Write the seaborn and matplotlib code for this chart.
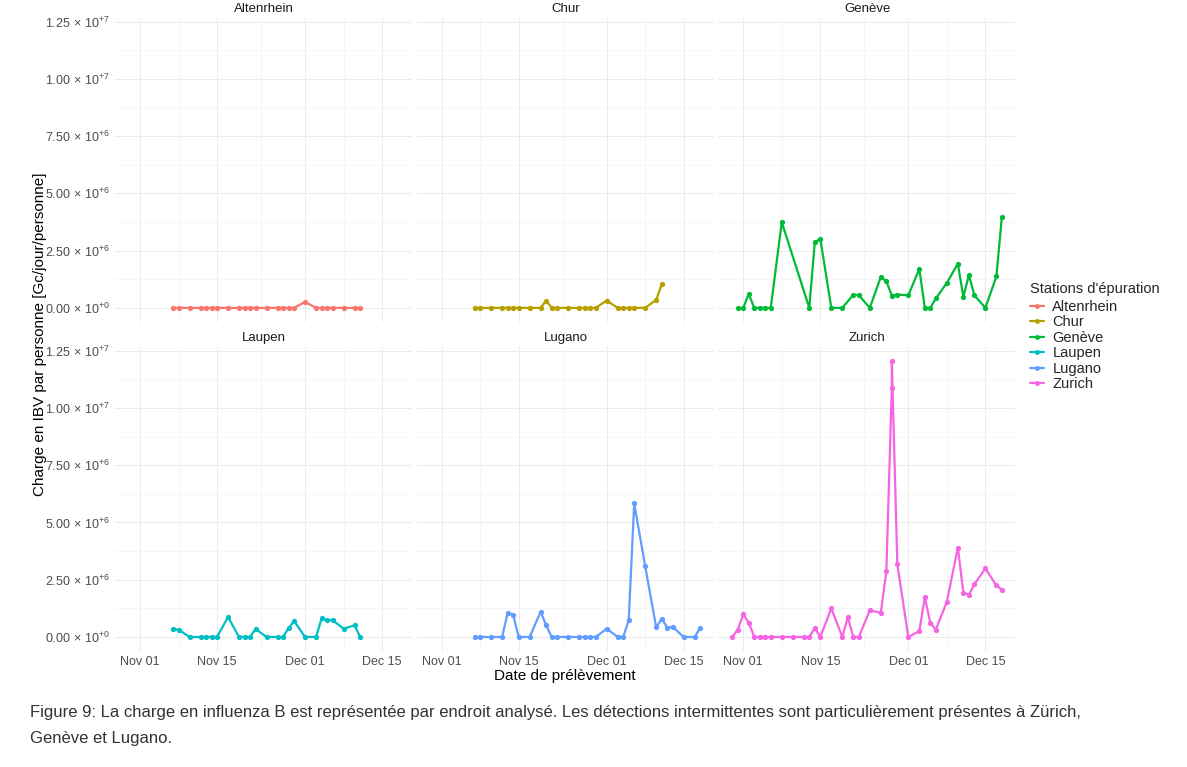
import pandas as pd
import matplotlib
matplotlib.use("Agg")
import matplotlib.pyplot as plt
import matplotlib.dates as mdates
from matplotlib.lines import Line2D
from matplotlib.ticker import FixedLocator
import seaborn as sns

# Stations and ggplot-like hue colours
stations = ["Altenrhein", "Chur", "Genève", "Laupen", "Lugano", "Zurich"]
colors = ["#F8766D", "#B79F00", "#00BA38", "#00BFC4", "#619CFF", "#F564E3"]

# sampling dates
dates_common = ["2023-11-07", "2023-11-08", "2023-11-10", "2023-11-12", "2023-11-13",
                "2023-11-14", "2023-11-15", "2023-11-17", "2023-11-19", "2023-11-20",
                "2023-11-21", "2023-11-22", "2023-11-24", "2023-11-26", "2023-11-27",
                "2023-11-28", "2023-11-29", "2023-12-01", "2023-12-03", "2023-12-04",
                "2023-12-05", "2023-12-06", "2023-12-08", "2023-12-10", "2023-12-11"]
dates_lugano = dates_common + ["2023-12-12", "2023-12-13", "2023-12-15", "2023-12-17", "2023-12-18"]
dates_geneve = ["2023-10-31", "2023-11-01", "2023-11-02", "2023-11-03", "2023-11-04",
                "2023-11-05", "2023-11-06", "2023-11-08", "2023-11-13", "2023-11-14",
                "2023-11-15", "2023-11-17", "2023-11-19", "2023-11-21", "2023-11-22",
                "2023-11-24", "2023-11-26", "2023-11-27", "2023-11-28", "2023-11-29",
                "2023-12-01", "2023-12-03", "2023-12-04", "2023-12-05", "2023-12-06",
                "2023-12-08", "2023-12-10", "2023-12-11", "2023-12-12", "2023-12-13",
                "2023-12-15", "2023-12-17", "2023-12-18"]
dates_zurich = ["2023-10-30", "2023-10-31", "2023-11-01", "2023-11-02", "2023-11-03",
                "2023-11-04", "2023-11-05", "2023-11-06", "2023-11-08", "2023-11-10",
                "2023-11-12", "2023-11-13", "2023-11-14", "2023-11-15", "2023-11-17",
                "2023-11-19", "2023-11-20", "2023-11-21", "2023-11-22", "2023-11-24",
                "2023-11-26", "2023-11-27", "2023-11-28", "2023-11-28", "2023-11-29",
                "2023-12-01", "2023-12-03", "2023-12-04", "2023-12-05", "2023-12-06",
                "2023-12-08", "2023-12-10", "2023-12-11", "2023-12-12", "2023-12-13",
                "2023-12-15", "2023-12-17", "2023-12-18"]

# loads in Gc/jour/personne
altenrhein = [0] * 17 + [2.6e5] + [0] * 7
chur = [0] * 9 + [3.2e5] + [0] * 7 + [3.2e5] + [0] * 5 + [3.5e5, 1.03e6]
geneve = [0, 0, 6.1e5, 0, 0, 0, 0, 3.74e6, 0, 2.86e6, 3.02e6, 0, 0, 5.7e5, 5.5e5, 0,
          1.35e6, 1.16e6, 5.4e5, 5.8e5, 5.5e5, 1.70e6, 0, 0, 4.1e5, 1.09e6, 1.93e6,
          4.7e5, 1.44e6, 5.5e5, 0, 1.37e6, 3.98e6]
laupen = [3.3e5, 3.2e5, 0, 0, 0, 0, 0, 8.7e5, 0, 0, 0, 3.5e5, 0, 0, 0, 3.8e5, 7.0e5,
          0, 0, 8.1e5, 7.3e5, 7.4e5, 3.6e5, 5.1e5, 0]
lugano = [0, 0, 0, 0, 1.05e6, 9.7e5, 0, 0, 1.10e6, 5.1e5, 0, 0, 0, 0, 0, 0, 0, 3.6e5,
          0, 0, 7.3e5, 5.83e6, 3.08e6, 4.2e5, 8.0e5, 4.1e5, 4.4e5, 0, 0, 4.1e5]
zurich = [0, 3.2e5, 9.9e5, 6.25e5, 0, 0, 0, 0, 0, 0, 0, 0, 3.9e5, 0, 1.25e6, 0, 8.6e5,
          0, 0, 1.16e6, 1.06e6, 2.86e6, 1.087e7, 1.206e7, 3.17e6, 0, 2.6e5, 1.74e6,
          6.1e5, 3.2e5, 1.54e6, 3.9e6, 1.93e6, 1.85e6, 2.30e6, 2.99e6, 2.25e6, 2.06e6]

series = {
    "Altenrhein": (dates_common, altenrhein),
    "Chur": (dates_common, chur),
    "Genève": (dates_geneve, geneve),
    "Laupen": (dates_common, laupen),
    "Lugano": (dates_lugano, lugano),
    "Zurich": (dates_zurich, zurich),
}
frames = []
for name, (d, v) in series.items():
    frames.append(pd.DataFrame({"date": pd.to_datetime(d), "charge": v, "station": name}))
df = pd.concat(frames, ignore_index=True)

sns.set_theme(style="whitegrid")
plt.rcParams["font.family"] = ["Liberation Sans", "DejaVu Sans"]
plt.rcParams["mathtext.fontset"] = "custom"
plt.rcParams["mathtext.rm"] = "Liberation Sans"
plt.rcParams["mathtext.it"] = "Liberation Sans:italic"

fig, axes = plt.subplots(2, 3, figsize=(11.87, 7.67), dpi=100, sharex=True, sharey=True)
fig.subplots_adjust(left=0.0973, right=0.8554, top=0.9768, bottom=0.1515,
                    wspace=0.017, hspace=0.083)

dmin, dmax = df["date"].min(), df["date"].max()
dpad = (dmax - dmin) * 0.05
ymax = df["charge"].max()
ypad = ymax * 0.05

yticks = [0, 2.5e6, 5e6, 7.5e6, 1e7, 1.25e7]
ylabels = [r"$\mathregular{0.00\,\times\,10^{+0}}$", r"$\mathregular{2.50\,\times\,10^{+6}}$",
           r"$\mathregular{5.00\,\times\,10^{+6}}$", r"$\mathregular{7.50\,\times\,10^{+6}}$",
           r"$\mathregular{1.00\,\times\,10^{+7}}$", r"$\mathregular{1.25\,\times\,10^{+7}}$"]
xticks = pd.to_datetime(["2023-11-01", "2023-11-15", "2023-12-01", "2023-12-15"])
xminor = pd.to_datetime(["2023-10-25", "2023-11-08", "2023-11-23", "2023-12-08", "2023-12-22"])

for ax, name, col in zip(axes.flat, stations, colors):
    sub = df[df["station"] == name]
    sns.lineplot(data=sub, x="date", y="charge", color=col, marker="o", markersize=3.8,
                 markeredgewidth=0, linewidth=1.6, estimator=None, sort=False, ax=ax)
    ax.set_title(name, fontsize=9.5, color="#1a1a1a", pad=4)
    ax.set_xlim(dmin - dpad, dmax + dpad)
    ax.set_ylim(-ypad, ymax + ypad)
    ax.set_xlabel("")
    ax.set_ylabel("")
    ax.yaxis.set_major_locator(FixedLocator(yticks))
    ax.set_yticklabels(ylabels)
    ax.yaxis.set_minor_locator(FixedLocator([1.25e6, 3.75e6, 6.25e6, 8.75e6, 1.125e7]))
    ax.xaxis.set_major_locator(FixedLocator(mdates.date2num(xticks)))
    ax.xaxis.set_major_formatter(mdates.DateFormatter("%b %d"))
    ax.xaxis.set_minor_locator(FixedLocator(mdates.date2num(xminor)))
    ax.grid(which="major", color="#EBEBEB", linewidth=0.7)
    ax.grid(which="minor", color="#F5F5F5", linewidth=0.6)
    ax.tick_params(which="both", length=0, labelsize=9, labelcolor="#4d4d4d", pad=4)
    for s in ax.spines.values():
        s.set_visible(False)
    ax.set_facecolor("white")

fig.text(565 / 1187, 1 - 676 / 767, "Date de prélèvement", ha="center", va="center",
         fontsize=11, color="black")
fig.text(40 / 1187, 1 - 334 / 767, "Charge en IBV par personne [Gc/jour/personne]",
         ha="center", va="center", rotation=90, fontsize=11, color="black")

handles = [Line2D([0], [0], color=c, marker="o", markersize=3.5, markeredgewidth=0,
                  linewidth=1.6) for c in colors]
leg = fig.legend(handles, stations, loc="upper left", bbox_to_anchor=(1024 / 1187, 1 - 276 / 767),
                 title="Stations d'épuration", frameon=False, fontsize=10.5, title_fontsize=10.5,
                 handlelength=1.0, handletextpad=0.55, labelspacing=0.1, alignment="left",
                 borderaxespad=0)
leg._legend_box.sep = 3

fig.text(30 / 1187, 1 - 712 / 767,
         "Figure 9: La charge en influenza B est représentée par endroit analysé. "
         "Les détections intermittentes sont particulièrement présentes à Zürich,",
         ha="left", va="center", fontsize=12, color="#333333")
fig.text(30 / 1187, 1 - 738 / 767, "Genève et Lugano.", ha="left", va="center",
         fontsize=12, color="#333333")

fig.savefig("out.png", dpi=100, facecolor="white")
